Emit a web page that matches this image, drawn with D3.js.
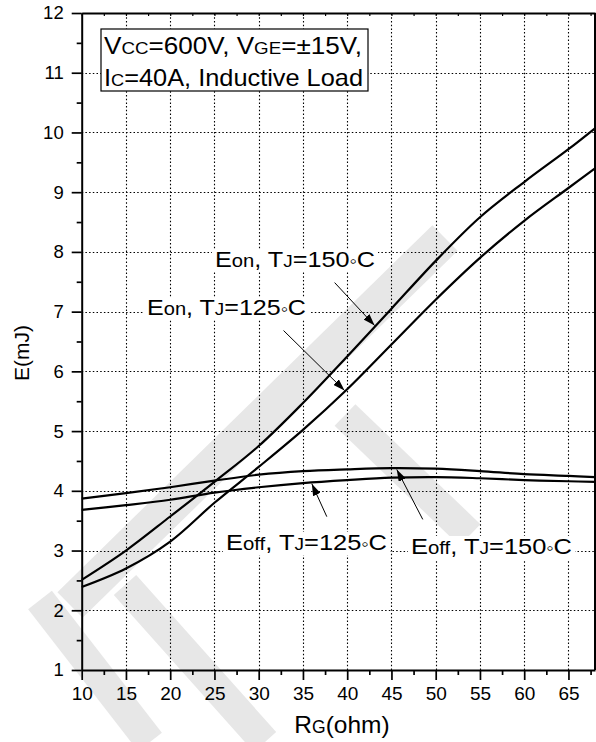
<!DOCTYPE html>
<html>
<head>
<meta charset="utf-8">
<script src="https://cdn.jsdelivr.net/npm/d3@7"></script>
<style>
  body { margin: 0; background: #fff; }
  svg { display: block; font-family: Arial, "Liberation Sans", Helvetica, sans-serif; }
</style>
</head>
<body>
<svg id="chart" width="596" height="742"></svg>
<script>
// Gate resistance (ohm) sampled for every curve
const rg = [10, 15, 20, 25, 30, 35, 40, 45, 50, 55, 60, 65, 68];
// Switching energies (mJ)
const eon150  = [2.51, 3.00, 3.57, 4.15, 4.75, 5.47, 6.25, 7.05, 7.85, 8.58, 9.17, 9.72, 10.07];
const eon125  = [2.39, 2.70, 3.15, 3.80, 4.40, 5.02, 5.70, 6.45, 7.20, 7.90, 8.52, 9.07, 9.40];
const eoff150 = [3.87, 3.96, 4.06, 4.17, 4.27, 4.33, 4.36, 4.38, 4.37, 4.33, 4.28, 4.25, 4.23];
const eoff125 = [3.68, 3.76, 3.85, 3.97, 4.06, 4.13, 4.18, 4.22, 4.23, 4.21, 4.18, 4.16, 4.15];

const xTickValues = [10, 15, 20, 25, 30, 35, 40, 45, 50, 55, 60, 65];
const yTickValues = [1, 2, 3, 4, 5, 6, 7, 8, 9, 10, 11, 12];
const xMinorValues = [12.5, 17.5, 22.5, 27.5, 32.5, 37.5, 42.5, 47.5, 52.5, 57.5, 62.5, 67.5];
const yMinorValues = [1.5, 2.5, 3.5, 4.5, 5.5, 6.5, 7.5, 8.5, 9.5, 10.5, 11.5];

const svg = d3.select("#chart");
const plotL = 81.7, plotR = 595, plotT = 13, plotB = 670;

const x = d3.scaleLinear().domain([10, 68]).range([plotL, plotR]);
const y = d3.scaleLinear().domain([1, 12]).range([plotB, plotT]);
const snap = v => Math.round(v) + 0.5;

// faint diagonal watermark strokes behind the plot
const bands = [
  [[445, 238], [70, 605], 36],
  [[40, 600], [150, 742], 30],
  [[125, 585], [265, 742], 30],
  [[345, 415], [470, 535], 30]
];
svg.append("g").attr("stroke", "#e7e7e7").attr("stroke-linecap", "butt")
  .selectAll("line").data(bands).join("line")
  .attr("x1", d => d[0][0]).attr("y1", d => d[0][1])
  .attr("x2", d => d[1][0]).attr("y2", d => d[1][1])
  .attr("stroke-width", d => d[2]);

// dotted grid at the major ticks
const grid = svg.append("g").attr("stroke", "#000").attr("stroke-width", 1.1)
  .attr("stroke-dasharray", "1.5,2.2");
grid.selectAll(".gx").data(xTickValues.slice(1)).join("line")
  .attr("x1", d => snap(x(d))).attr("x2", d => snap(x(d))).attr("y1", plotB).attr("y2", plotT);
grid.selectAll(".gy").data(yTickValues.slice(1, -1)).join("line")
  .attr("y1", d => snap(y(d))).attr("y2", d => snap(y(d))).attr("x1", plotL).attr("x2", plotR);

// curves
const series = [eon150, eon125, eoff150, eoff125];
const line = d3.line().x(d => x(d[0])).y(d => y(d[1])).curve(d3.curveCatmullRom.alpha(0.5));
svg.append("g").selectAll("path").data(series).join("path")
  .attr("d", s => line(rg.map((r, i) => [r, s[i]])))
  .attr("fill", "none").attr("stroke", "#000").attr("stroke-width", 2.2);

// value on a curve at an arbitrary resistance
function valueAt(s, r) {
  const i = Math.max(1, d3.bisectLeft(rg, r));
  const t = (r - rg[i - 1]) / (rg[i] - rg[i - 1]);
  return s[i - 1] + t * (s[i] - s[i - 1]);
}

// axes
function styleAxis(g) {
  g.selectAll(".domain").attr("stroke-width", 2);
  g.selectAll(".tick line").attr("stroke-width", 1.7);
}
const yAxis = svg.append("g").attr("transform", `translate(${plotL},0)`)
  .call(d3.axisLeft(y).tickValues(yTickValues).tickSize(10).tickSizeOuter(0).tickPadding(8));
yAxis.selectAll("text").attr("font-size", 18.5).attr("fill", "#000").attr("font-family", "Arial, 'Liberation Sans', sans-serif");
styleAxis(yAxis);
svg.append("g").attr("transform", `translate(${plotL},0)`)
  .call(d3.axisLeft(y).tickValues(yMinorValues).tickSize(5).tickFormat(""))
  .call(g => g.select(".domain").remove())
  .selectAll(".tick line").attr("stroke-width", 1.7);

const xAxis = svg.append("g").attr("transform", `translate(0,${plotB})`)
  .call(d3.axisBottom(x).tickValues(xTickValues).tickSize(10).tickSizeOuter(0).tickPadding(7));
xAxis.selectAll("text").attr("font-size", 19).attr("fill", "#000").attr("font-family", "Arial, 'Liberation Sans', sans-serif");
styleAxis(xAxis);
svg.append("g").attr("transform", `translate(0,${plotB})`)
  .call(d3.axisBottom(x).tickValues(xMinorValues).tickSize(5).tickFormat(""))
  .call(g => g.select(".domain").remove())
  .selectAll(".tick line").attr("stroke-width", 1.7);

// top frame with short inward ticks, right frame
svg.append("g").attr("transform", `translate(0,${plotT})`)
  .call(d3.axisBottom(x).tickValues(xTickValues.concat(xMinorValues)).tickSize(3).tickSizeOuter(0).tickFormat(""))
  .call(g => { g.select(".domain").attr("stroke-width", 2); g.selectAll(".tick line").attr("stroke-width", 1.2); });
svg.append("line").attr("x1", plotR).attr("x2", plotR).attr("y1", plotT).attr("y2", plotB)
  .attr("stroke", "#000").attr("stroke-width", 2);

// axis titles
svg.append("text").attr("transform", "translate(29,353) rotate(-90)")
  .attr("text-anchor", "middle").attr("font-size", 21).text("E(mJ)");
const xt = svg.append("text").attr("x", 342).attr("y", 733).attr("text-anchor", "middle").attr("font-size", 24.5);
xt.append("tspan").text("R");
xt.append("tspan").attr("font-size", 17.5).text("G");
xt.append("tspan").text("(ohm)");

// rich text: parts are [string, relative size]
function richText(parts, px, py, size, width, anchor) {
  const t = svg.append("text").attr("x", px).attr("y", py).attr("font-size", size)
    .attr("text-anchor", anchor || "start");
  parts.forEach(([s, k]) => t.append("tspan").attr("font-size", size * k).text(s));
  if (width) t.attr("textLength", width).attr("lengthAdjust", "spacingAndGlyphs");
  return t;
}
function withBackground(t, pad) {
  const b = t.node().getBBox();
  svg.insert("rect", () => t.node())
    .attr("x", b.x - pad).attr("y", b.y + 2).attr("width", b.width + 2 * pad).attr("height", b.height - 2)
    .attr("fill", "#fff");
}

// condition box
svg.append("rect").attr("x", 101).attr("y", 29).attr("width", 267).attr("height", 62)
  .attr("fill", "#fff").attr("stroke", "#000").attr("stroke-width", 1.2);
richText([["V", 1], ["CC", 0.72], ["=600V, V", 1], ["GE", 0.72], ["=\u00b115V,", 1]], 104, 54, 24, 258);
richText([["I", 1], ["C", 0.72], ["=40A, Inductive Load", 1]], 104, 86, 24, 259);

// curve annotations with arrows
svg.append("defs").append("marker").attr("id", "head")
  .attr("viewBox", "0 0 12 8").attr("refX", 12).attr("refY", 4)
  .attr("markerWidth", 12).attr("markerHeight", 8).attr("markerUnits", "userSpaceOnUse")
  .attr("orient", "auto")
  .append("path").attr("d", "M0,0 L12,4 L0,8 Z").attr("fill", "#000");

const notes = [
  { parts: [["E", 1], ["on", 0.8], [", T", 1], ["J", 0.75], ["=150", 1], ["\u25e6", 0.8], ["C", 1]],
    tx: 215, ty: 267, w: 160, s: eon150, r: 43.1, dx: -40, dy: -43, side: -1 },
  { parts: [["E", 1], ["on", 0.8], [", T", 1], ["J", 0.75], ["=125", 1], ["\u25e6", 0.8], ["C", 1]],
    tx: 147, ty: 315, w: 159, s: eon125, r: 39.7, dx: -61, dy: -60, side: -1 },
  { parts: [["E", 1], ["off", 0.8], [", T", 1], ["J", 0.75], ["=125", 1], ["\u25e6", 0.8], ["C", 1]],
    tx: 226, ty: 550, w: 161, s: eoff125, r: 36.0, dx: 15, dy: 33, side: 1 },
  { parts: [["E", 1], ["off", 0.8], [", T", 1], ["J", 0.75], ["=150", 1], ["\u25e6", 0.8], ["C", 1]],
    tx: 411, ty: 554, w: 161, s: eoff150, r: 45.6, dx: 26, dy: 50, side: 1 }
];
notes.forEach(n => {
  const t = richText(n.parts, n.tx, n.ty, 22.5, n.w);
  withBackground(t, 3);
  const px = x(n.r), py = y(valueAt(n.s, n.r)) + n.side * 1.2;
  svg.append("line").attr("x1", px + n.dx).attr("y1", py + n.dy).attr("x2", px).attr("y2", py)
    .attr("stroke", "#000").attr("stroke-width", 1).attr("marker-end", "url(#head)");
});
</script>
</body>
</html>
